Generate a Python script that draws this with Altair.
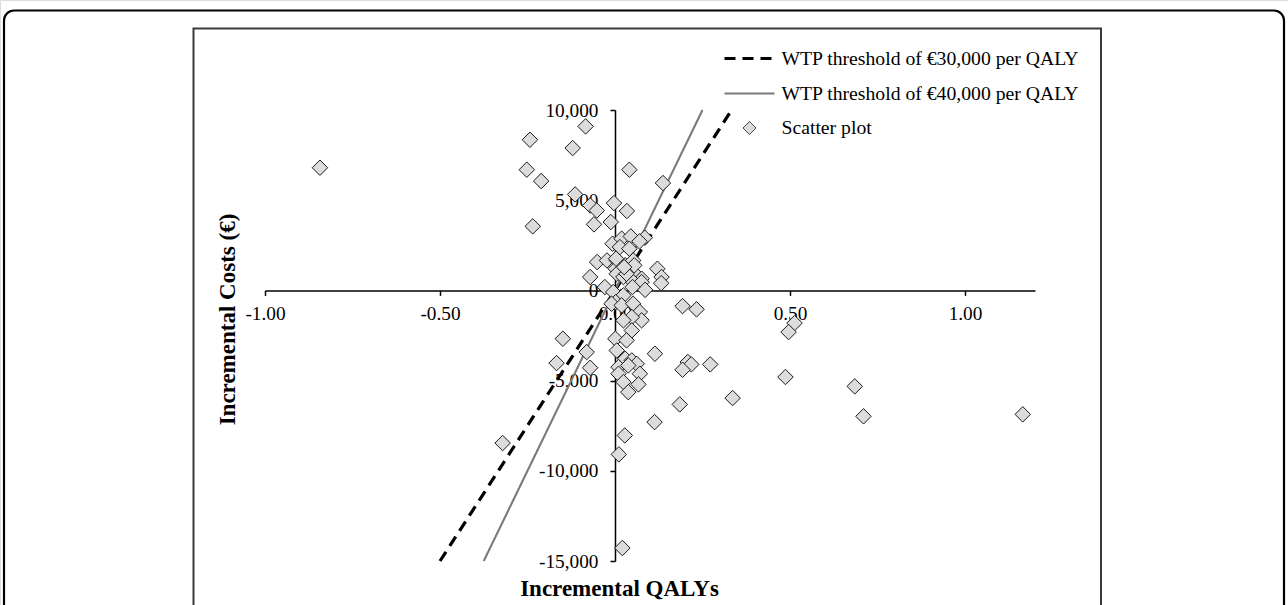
import altair as alt
import pandas as pd

# ---- data ----
qaly = [-0.843, -0.243, -0.084, -0.121, -0.252, -0.211, -0.235, -0.114, -0.071, -0.052,
        -0.060, -0.012, -0.003, -0.051, -0.071, -0.029, -0.007, -0.023,
        0.041, 0.137, 0.034, 0.085, 0.019, 0.045, 0.070, 0.014, 0.041, 0.005,
        0.029, 0.002, 0.121, 0.052, 0.133, 0.076, 0.005, 0.024, 0.052, 0.076,
        0.132, 0.086, 0.003, 0.052, 0.033, 0.055, 0.026, 0.016, 0.050,
        -0.005, 0.024, 0.002, -0.010, 0.019, 0.052, 0.071, 0.076, 0.048, 0.024,
        0.048, 0.001, 0.033, 0.005, 0.029, 0.048, 0.062, 0.114, 0.010, 0.010,
        0.038, 0.071, 0.024, 0.067, 0.038,
        0.193, 0.233, 0.513, 0.496, 0.208, 0.218, 0.193, 0.272, 0.487, 0.685,
        0.336, 0.185, 0.113, 0.710, 1.165, 0.028, 0.011, 0.021,
        -0.149, -0.167, -0.081, -0.071, -0.321]
cost = [6800, 8350, 9090, 7890, 6690, 6060, 3550, 5320, 4710, 4430,
        3660, 3790, 4840, 1570, 740, 185, 2590, 1660,
        6690, 5950, 4400, 2920, 2870, 2990, 2720, 2400, 2310, 1660,
        1390, 1200, 1200, 1020, 740, 650, 920, 740, 460, 460,
        400, 30, 1760, 1660, 920, 1390, 1290, -370, 185,
        -90, -280, -650, -740, -830, -740, -1200, -1660, -1480, -1660,
        -2220, -2680, -2770, -3330, -3790, -3880, -4070, -3510, -4250, -4620,
        -4160, -4620, -5080, -5210, -5640,
        -870, -1050, -1810, -2310, -3970, -4100, -4400, -4100, -4800, -5320,
        -5970, -6320, -7300, -6980, -6870, -8040, -9090, -14280,
        -2680, -4030, -3420, -4290, -8460]

series_names = ["WTP threshold of \u20ac30,000 per QALY",
                "WTP threshold of \u20ac40,000 per QALY",
                "Scatter plot"]
wtp_values = [30000, 40000]
line_cost_ends = [-15000, 10000]

x_ticks = [-1.0, -0.5, 0.0, 0.5, 1.0]
y_ticks = [-15000, -10000, -5000, 0, 5000, 10000]
x_domain = [-1.0, 1.2]
y_domain = [-15000, 10000]

# ---- layout ----
W, H = 1288, 605
X_RANGE = [265, 1035]
Y_RANGE = [561, 110]
FONT = "Liberation Serif"

x0_px = X_RANGE[0] + (0 - x_domain[0]) / (x_domain[1] - x_domain[0]) * (X_RANGE[1] - X_RANGE[0])
y0_px = Y_RANGE[0] + (0 - y_domain[0]) / (y_domain[1] - y_domain[0]) * (Y_RANGE[1] - Y_RANGE[0])

rows = []
for name, wtp in zip(series_names[:2], wtp_values):
    for c in line_cost_ends:
        rows.append({"series": name, "qaly": c / wtp, "cost": c})
lines_df = pd.DataFrame(rows)
pts_df = pd.DataFrame({"qaly": qaly, "cost": cost, "series": series_names[2]})
frame_df = pd.DataFrame({"k": [0]})

LINE_PATH = "M-2.5,0H2.5"
DIAMOND_PATH = "M-0.65,0L0,-0.65L0.65,0L0,0.65Z"

x_scale = alt.Scale(domain=x_domain, range=X_RANGE, nice=False, zero=False)
y_scale = alt.Scale(domain=y_domain, range=Y_RANGE, nice=False, zero=False)
stroke_scale = alt.Scale(domain=series_names, range=["#000000", "#7a7a7a", "#1a1a1a"])
dash_scale = alt.Scale(domain=series_names, range=[[11, 7], [1, 0], [1, 0]])
width_scale = alt.Scale(type="point", domain=series_names, range=[3.2, 1])
shape_scale = alt.Scale(domain=series_names, range=[LINE_PATH, LINE_PATH, DIAMOND_PATH])

legend = alt.Legend(title=None, orient="none", legendX=737.5, legendY=46.5,
                    symbolSize=400, labelFont=FONT, labelFontSize=19.7, labelColor="black",
                    labelLimit=600, rowPadding=13.5, labelOffset=20, padding=0,
                    symbolFillColor="#dcdcdc", symbolOpacity=1)

common_axis = dict(grid=False, domainColor="black", domainWidth=1.5, tickColor="black",
                   tickWidth=1.5, tickSize=5, labelFont=FONT, labelFontSize=19.3,
                   labelColor="black", labelFlush=False, labelOverlap=False,
                   titleFont=FONT, titleFontSize=23, titleFontWeight="bold",
                   titleColor="black", titleBaseline="middle", titleAlign="center")

x_axis = alt.Axis(values=x_ticks, offset=y0_px - H, labelPadding=9,
                  labelExpr="(datum.value < 0 ? '-' : '') + format(abs(datum.value), '.2f')",
                  title="Incremental QALYs", titleX=619, titleY=588 - y0_px, titleAngle=0,
                  **common_axis)
y_axis = alt.Axis(values=y_ticks, offset=-x0_px, labelPadding=12,
                  labelExpr="(datum.value < 0 ? '-' : '') + format(abs(datum.value), ',')",
                  title="Incremental Costs (\u20ac)", titleX=227 - x0_px, titleY=319, titleAngle=270,
                  **common_axis)

outer = alt.Chart(frame_df).mark_rect(fill="transparent", stroke="black", strokeWidth=2.2,
                                      cornerRadius=10).encode(
    x=alt.value(4), x2=alt.value(1284), y=alt.value(10.5), y2=alt.value(680))
inner = alt.Chart(frame_df).mark_rect(fill="transparent", stroke="#3a3a3a", strokeWidth=2).encode(
    x=alt.value(193.5), x2=alt.value(1101), y=alt.value(28.5), y2=alt.value(680))

lines = alt.Chart(lines_df).mark_line().encode(
    x=alt.X("qaly:Q", scale=x_scale, axis=x_axis),
    y=alt.Y("cost:Q", scale=y_scale, axis=y_axis),
    stroke=alt.Stroke("series:N", scale=stroke_scale, legend=legend),
    strokeDash=alt.StrokeDash("series:N", scale=dash_scale, legend=legend),
    strokeWidth=alt.StrokeWidth("series:N", scale=width_scale, legend=legend),
)

points = alt.Chart(pts_df).mark_point(filled=True, fill="#dcdcdc", opacity=1, size=568).encode(
    x=alt.X("qaly:Q", scale=x_scale),
    y=alt.Y("cost:Q", scale=y_scale),
    stroke=alt.Stroke("series:N", scale=stroke_scale, legend=legend),
    shape=alt.Shape("series:N", scale=shape_scale, legend=legend),
    strokeWidth=alt.StrokeWidth("series:N", scale=width_scale, legend=legend),
)

chart = alt.layer(outer, inner, lines, points).properties(
    width=W, height=H, padding=0, autosize="none"
).configure_view(strokeWidth=0).configure(background="white")

chart.save("out.html", embed_options={"renderer": "svg", "actions": False})
